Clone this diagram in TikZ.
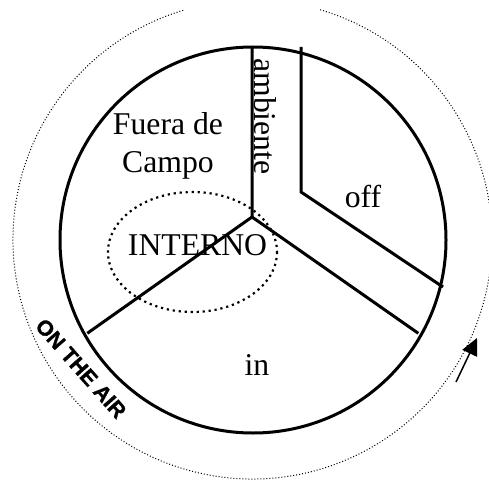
\documentclass[tikz,border=0pt]{standalone}
\usepackage{fontspec}
\setmainfont{Liberation Serif}
\newfontfamily\airfont[BoldFeatures={FakeBold=1.2}]{Liberation Sans}
\usetikzlibrary{arrows.meta}

\begin{document}
\begin{tikzpicture}[x=1pt, y=-1pt,
	rim/.style={line width=3pt},
	ring/.style={line width=1pt, dash pattern=on 1pt off 2pt},
	inner/.style={line width=2.2pt, dash pattern=on 2.2pt off 3.8pt},
	zone/.style={font=\fontsize{31.7}{38}\selectfont, inner sep=0pt}]
	\useasboundingbox (0,0) rectangle (489,481);
	\clip (0,0) rectangle (489,481);
	% wheel
	\coordinate (c) at (253,240);
	\coordinate (hub) at (252,217);
	\coordinate (top) at (252,48);
	\coordinate (lend) at (87.3,333.3);
	\coordinate (rend) at (418.3,333.3);
	\coordinate (otop) at (301,47);
	\coordinate (obend) at (301,192);
	\coordinate (oend) at (443,287);
	\draw[rim] (c) circle[radius=193];
	\draw[rim] (hub) -- (top) (hub) -- (lend) (hub) -- (rend);
	\draw[rim] (otop) -- (obend) -- (oend);
	\draw[inner] (192.5,252) ellipse[x radius=84.5, y radius=60];
	% on the air ring
	\draw[ring] (252.5,239.5) ++(-73.6:239.5) arc[start angle=-73.6, end angle=253.6, radius=239.5];
	\coordinate (atail) at (456,382);
	\coordinate (ahead) at (477,338);
	\draw[line width=1.5pt, -{Triangle[length=17pt,width=16pt]}] (atail) -- (ahead);
	% labels
	\node[zone, align=center] (fuera) at (168,146) {Fuera de\\Campo};
	\node[zone, anchor=base, rotate=-90] (amb) at (254,116.5) {ambiente};
	\node[zone, anchor=base] (off) at (363,207) {off};
	\node[zone, anchor=base] (interno) at (197.5,255) {INTERNO};
	\node[zone, anchor=base] (in) at (257,375) {in};
	\node[font=\airfont\bfseries\fontsize{21.5}{24}\selectfont, rotate=-48.5, inner sep=0pt] (air) at (81,368.5) {ON THE AIR};
\end{tikzpicture}
\end{document}
